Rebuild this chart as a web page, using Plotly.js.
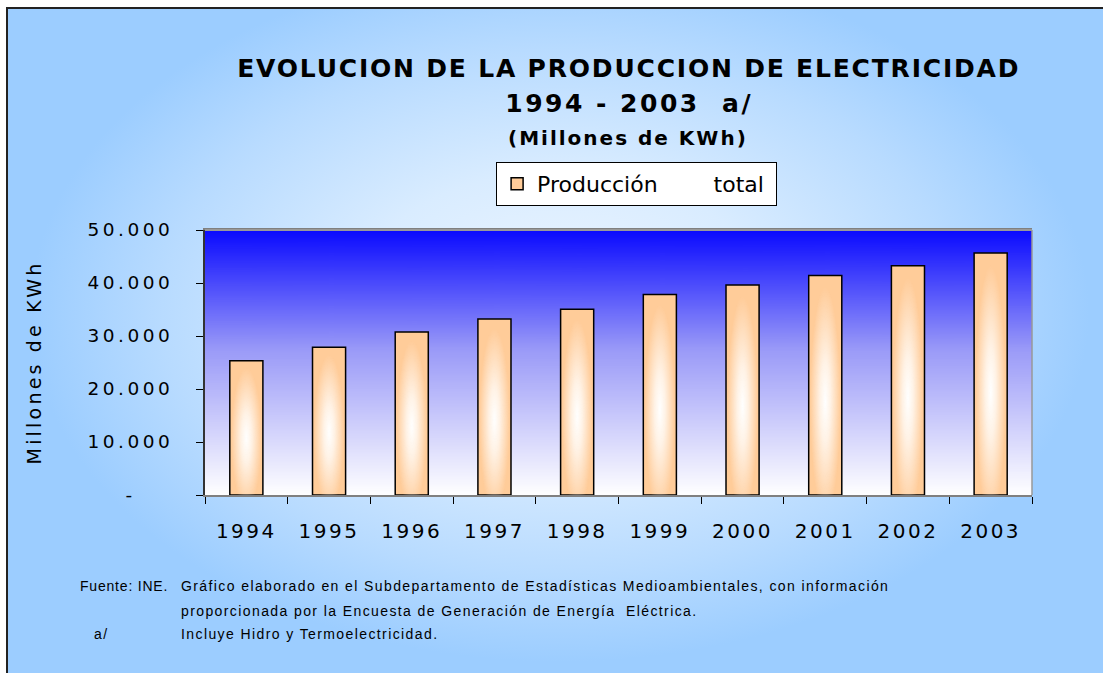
<!DOCTYPE html>
<html>
<head>
<meta charset="utf-8">
<script src="https://cdn.plot.ly/plotly-3.0.1.min.js"></script>
<style>
  html, body { margin: 0; padding: 0; background: #ffffff; }
  #frame {
    position: absolute; left: 6px; top: 7px; width: 1103px; height: 673px;
    border-left: 2px solid #222; border-top: 2px solid #222;
    background: radial-gradient(ellipse 48% 52% at 50% 45%, #eef6ff 0%, #d9ecff 40%, #b8dbff 75%, #9ccdff 100%);
  }
  #grafico { position: absolute; left: 0; top: 0; width: 1103px; height: 673px; }
  .xtick text { letter-spacing: 2.5px; }
  .ytick text { letter-spacing: 3.5px; }
  .ytitle { letter-spacing: 3.2px; }
  g.annotation[data-index="0"] text { letter-spacing: 1.8px; }
  g.annotation[data-index="1"] text { letter-spacing: 2.5px; }
  g.annotation[data-index="2"] text { letter-spacing: 2px; }
  g.annotation[data-index="3"] text { letter-spacing: 0.8px; }
  g.annotation[data-index="4"] text,
  g.annotation[data-index="5"] text,
  g.annotation[data-index="6"] text,
  g.annotation[data-index="7"] text { letter-spacing: 1.4px; }
</style>
</head>
<body>
<div id="frame"></div>
<div id="grafico"></div>
<script>
// Producción total de electricidad, millones de KWh
const anios = [1994, 1995, 1996, 1997, 1998, 1999, 2000, 2001, 2002, 2003];
const produccion = [25350, 27900, 30750, 33200, 35050, 37850, 39600, 41400, 43250, 45650];

const valoresY = [0, 10000, 20000, 30000, 40000, 50000];
const etiquetasY = ['-\u00a0\u00a0\u00a0\u00a0', '10.000', '20.000', '30.000', '40.000', '50.000'];

const anchoBarra = 0.4;

// degradado vertical azul -> blanco para el fondo del área de trazado
function fondoAzul() {
    const c = document.createElement('canvas');
    c.width = 10; c.height = 300;
    const ctx = c.getContext('2d');
    const g = ctx.createLinearGradient(0, 0, 0, 300);
    g.addColorStop(0, '#0a0aff');
    g.addColorStop(0.45, '#9a9af8');
    g.addColorStop(1, '#ffffff');
    ctx.fillStyle = g;
    ctx.fillRect(0, 0, 10, 300);
    return c.toDataURL();
}

// brillo blanco en el centro de cada barra
function brilloBarra() {
    const c = document.createElement('canvas');
    c.width = 60; c.height = 400;
    const ctx = c.getContext('2d');
    ctx.save();
    ctx.translate(30, 230);
    ctx.scale(1, 7);
    const g = ctx.createRadialGradient(0, 0, 0, 0, 0, 30);
    g.addColorStop(0, 'rgba(255,255,255,1)');
    g.addColorStop(0.35, 'rgba(255,255,255,0.75)');
    g.addColorStop(1, 'rgba(255,255,255,0)');
    ctx.fillStyle = g;
    ctx.fillRect(-30, -40, 60, 80);
    ctx.restore();
    return c.toDataURL();
}

const nbsp = n => '\u00a0'.repeat(n);

const traceBarras = {
    x: anios,
    y: produccion,
    type: 'bar',
    width: anchoBarra,
    name: 'Producción' + nbsp(8) + 'total' + nbsp(1),
    marker: { color: '#ffcc99', line: { color: '#000000', width: 1.5 } },
    hoverinfo: 'x+y'
};

const imgBrillo = brilloBarra();
const images = [{
    source: fondoAzul(),
    xref: 'paper', yref: 'paper',
    x: 0, y: 1, sizex: 1, sizey: 1,
    sizing: 'stretch', layer: 'below',
    xanchor: 'left', yanchor: 'top'
}];
anios.forEach((a, i) => {
    images.push({
        source: imgBrillo,
        xref: 'x', yref: 'y',
        x: a, y: 0,
        sizex: anchoBarra * 0.92, sizey: produccion[i],
        xanchor: 'center', yanchor: 'bottom',
        sizing: 'stretch', layer: 'above'
    });
});

const fuenteTitulo = { family: 'DejaVu Sans, Verdana, sans-serif', size: 25, color: '#000', weight: 'bold' };
const fuenteNota = { family: 'Liberation Sans, Arial, sans-serif', size: 14, color: '#000' };

const annotations = [
    { text: 'EVOLUCION DE LA PRODUCCION DE ELECTRICIDAD', x: 0.512, y: 1.611, font: fuenteTitulo },
    { text: '1994 - 2003' + nbsp(2) + 'a/', x: 0.513, y: 1.479, font: fuenteTitulo },
    { text: '(Millones de KWh)', x: 0.512, y: 1.347, font: { family: 'DejaVu Sans, Verdana, sans-serif', size: 20, color: '#000', weight: 'bold' } },
    { text: 'Fuente:' + nbsp(1) + 'INE.', x: -0.153, y: -0.343, xanchor: 'left', align: 'left', font: fuenteNota },
    { text: 'Gráfico elaborado en el Subdepartamento de Estadísticas Medioambientales, con información', x: -0.031, y: -0.343, xanchor: 'left', align: 'left', font: fuenteNota },
    { text: 'proporcionada por la Encuesta de Generación de Energía' + nbsp(1) + ' Eléctrica.', x: -0.031, y: -0.438, xanchor: 'left', align: 'left', font: fuenteNota },
    { text: 'a/', x: -0.137, y: -0.525, xanchor: 'left', align: 'left', font: fuenteNota },
    { text: 'Incluye Hidro y Termoelectricidad.', x: -0.031, y: -0.525, xanchor: 'left', align: 'left', font: fuenteNota }
].map(a => Object.assign({ xref: 'paper', yref: 'paper', showarrow: false, xanchor: 'center', yanchor: 'middle' }, a));

const layout = {
    width: 1103,
    height: 673,
    margin: { l: 205, r: 71, t: 230, b: 178 },
    paper_bgcolor: 'rgba(0,0,0,0)',
    plot_bgcolor: 'rgba(0,0,0,0)',
    font: { family: 'DejaVu Sans, Verdana, sans-serif', color: '#000' },
    showlegend: true,
    legend: {
        x: 0.352, y: 1.257, xanchor: 'left', yanchor: 'top',
        bgcolor: '#ffffff', bordercolor: '#000000', borderwidth: 1,
        font: { size: 22, color: '#000' },
        itemclick: false
    },
    xaxis: {
        type: 'linear',
        range: [1993.5, 2003.5],
        tickvals: anios,
        ticktext: anios.map(String),
        ticks: '',
        tickfont: { size: 20 },
        ticklabelstandoff: 17,
        showgrid: false,
        zeroline: false,
        showline: true, linecolor: '#808080', linewidth: 2,
        mirror: true,
        minor: { ticks: 'outside', ticklen: 7, tickcolor: '#000', tickwidth: 1, tick0: 1993.5, dtick: 1, showgrid: false }
    },
    yaxis: {
        range: [0, 50000],
        tickvals: valoresY,
        ticktext: etiquetasY,
        ticks: 'outside', ticklen: 7, tickcolor: '#000',
        tickfont: { size: 18.5 },
        ticklabelstandoff: 19,
        showgrid: false,
        zeroline: false,
        showline: true, linecolor: '#333333', linewidth: 2,
        mirror: false,
        title: { text: 'Millones de KWh', font: { size: 19 }, standoff: 41 }
    },
    shapes: [
        { type: 'line', xref: 'paper', yref: 'paper', x0: 0, x1: 1, y0: 1, y1: 1, line: { color: '#999999', width: 2 } },
        { type: 'line', xref: 'paper', yref: 'paper', x0: 1, x1: 1, y0: 0, y1: 1, line: { color: '#999999', width: 1.5 } }
    ],
    images: images,
    annotations: annotations,
    bargap: 0.6,
    hovermode: 'closest'
};

Plotly.newPlot('grafico', [traceBarras], layout, { displayModeBar: false });
</script>
</body>
</html>
